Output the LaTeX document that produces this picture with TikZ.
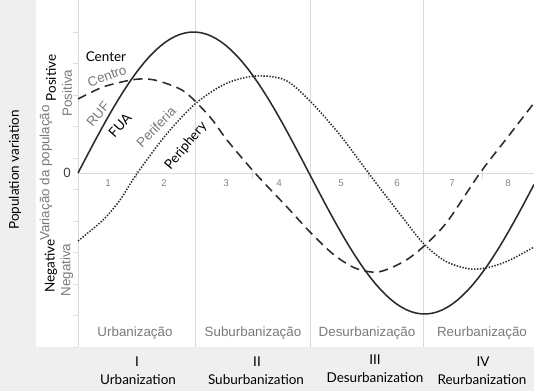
\documentclass[tikz,border=0pt]{standalone}
\usepackage{xcolor}
\usepackage{tikz}
\usepackage{fontspec}
\setmainfont{Lato}
\newfontfamily\ptfont{Liberation Sans}
\definecolor{bandgray}{HTML}{EFEFEF}
\definecolor{gridgray}{HTML}{DADADA}
\definecolor{ptgray}{HTML}{7A7A7A}
\definecolor{curveblack}{HTML}{2B2B2B}
\tikzset{
  enlabel/.style={inner sep=0pt,text=black,font=\fontsize{9.6}{11}\selectfont},
  ptlabel/.style={inner sep=0pt,text=ptgray,font=\ptfont\fontsize{9.5}{11}\selectfont},
  numlabel/.style={inner sep=0pt,text=ptgray!90,font=\ptfont\fontsize{7}{8}\selectfont},
  curve/.style={curveblack,line width=1.1pt,line join=round},
}

\begin{document}
\begin{tikzpicture}[x=0.025cm,y=-0.025cm]
  \useasboundingbox (0,0) rectangle (534,391);
  \fill[bandgray] (0,0) rectangle (534,391);
  \fill[white] (36,0) rectangle (534,347);
  % grid and axes
  \foreach \gx in {195,310,423}
    \draw[gridgray,line width=0.5pt] (\gx,0) -- (\gx,347);
  \draw[gridgray,line width=0.6pt] (78,0) -- (78,347);
  \draw[gridgray,line width=0.6pt] (78,173) -- (534,173);
  \foreach \gy in {0,...,10}
    \draw[gridgray,line width=0.5pt] (73,{347-31.5*\gy}) -- (78,{347-31.5*\gy});
  \foreach \gx in {136,252,368,482}
    \draw[gridgray,line width=0.5pt] (\gx,170) -- (\gx,179);
  % sub-phase numbers
  \foreach \n/\nx in {1/108,2/164,3/226,4/279,5/341,6/397,7/452,8/508}
    \node[numlabel] (num\n) at (\nx,183) {\n};
  % curves
  \draw[curve,dash pattern=on 1pt off 1.1pt] plot[smooth] coordinates {
    (78,241) (103,220) (120,200) (136,175) (165,136) (195,104) (225,84)
    (255,76) (285,80) (310,101) (340,135) (370,175) (403,218) (423,243)
    (445,261) (470,269) (490,267) (510,260) (534,247)};
  \draw[curve,dash pattern=on 6.5pt off 4pt] plot[smooth] coordinates {
    (78,99) (103,87) (131,80) (147,79) (162,82) (185,92) (210,117)
    (227,140) (255,173) (287,207) (310,232) (333,254) (355,268) (378,272)
    (403,262) (423,247) (447,222) (480,173) (507,138) (534,103)};
  \draw[curve] plot[domain=78:534,samples=90] (\x,{173-141*sin((\x-78)/462*360)});
  % curve labels
  \node[enlabel] (center) at (106,57) {Center};
  \node[ptlabel,rotate=20] (centro) at (107,76) {Centro};
  \node[ptlabel,rotate=50] (ruf) at (98,114) {RUF};
  \node[enlabel,rotate=48] (fua) at (120,125) {FUA};
  \node[ptlabel,rotate=46] (periferia) at (156,127) {Periferia};
  \node[enlabel,rotate=50] (periphery) at (186,146) {Periphery};
  % y axis labels
  \node[enlabel,rotate=90] (popvar) at (15,170) {Population variation};
  \node[ptlabel,rotate=90] (variacao) at (46,173) {Variação da população};
  \node[enlabel,rotate=90] (positive) at (51,78) {Positive};
  \node[ptlabel,rotate=90] (positiva) at (67,93) {Positiva};
  \node[enlabel,rotate=90] (negative) at (51,266) {Negative};
  \node[ptlabel,rotate=90] (negativa) at (67,270) {Negativa};
  \node[ptlabel,text=black!75] (zero) at (67,173) {0};
  % phase labels
  \node[ptlabel] (urbpt) at (135,333) {Urbanização};
  \node[ptlabel] (suburbpt) at (253,333) {Suburbanização};
  \node[ptlabel] (desurbpt) at (367,333) {Desurbanização};
  \node[ptlabel] (reurbpt) at (482,333) {Reurbanização};
  \node[enlabel] (phaseI) at (137,362) {I};
  \node[enlabel] (urben) at (138,380) {Urbanization};
  \node[enlabel] (phaseII) at (257,362) {II};
  \node[enlabel] (suburben) at (256,380) {Suburbanization};
  \node[enlabel] (phaseIII) at (375,360) {III};
  \node[enlabel] (desurben) at (375,378) {Desurbanization};
  \node[enlabel] (phaseIV) at (483,362) {IV};
  \node[enlabel] (reurben) at (482,380) {Reurbanization};
\end{tikzpicture}
\end{document}
